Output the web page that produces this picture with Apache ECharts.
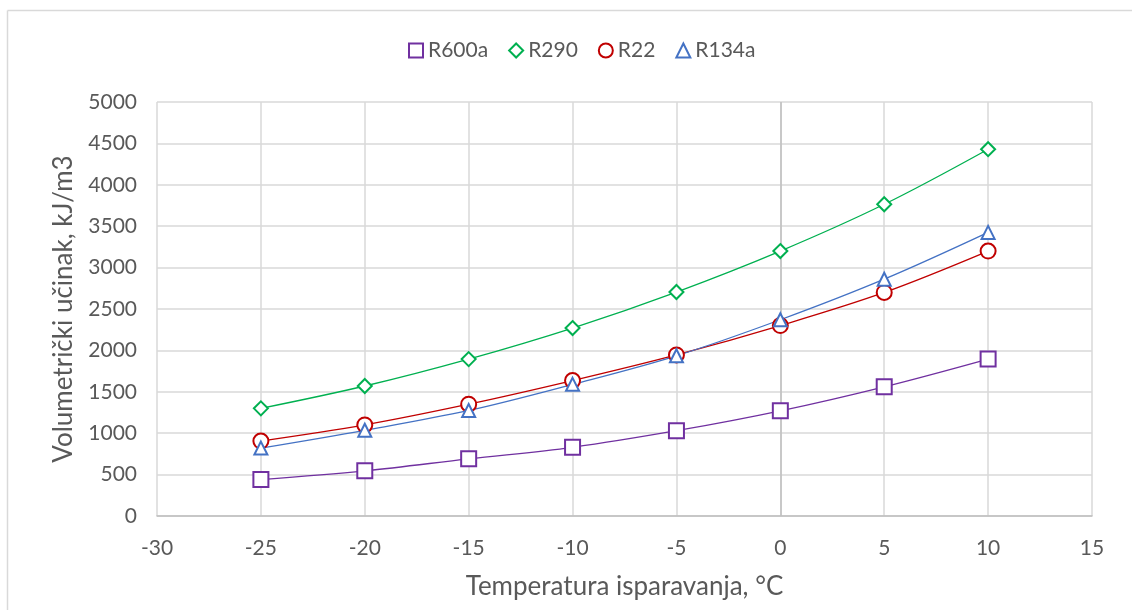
<!DOCTYPE html>
<html>
<head>
<meta charset="utf-8">
<script src="https://cdn.jsdelivr.net/npm/echarts@6/dist/echarts.min.js"></script>
<style>
html,body{margin:0;padding:0;background:#fff;}
#chart{width:1132px;height:610px;}
</style>
</head>
<body>
<div id="chart"></div>
<script>
const temps = [-25, -20, -15, -10, -5, 0, 5, 10];
const r600a = [440, 545, 690, 830, 1030, 1270, 1560, 1895];
const r290 = [1300, 1570, 1895, 2270, 2705, 3200, 3765, 4430];
const r22 = [905, 1100, 1350, 1635, 1945, 2300, 2700, 3200];
const r134a = [820, 1035, 1275, 1590, 1935, 2370, 2860, 3425];
const xTicks = [-30, 15, 5];
const yTicks = [0, 5000, 500];

const font = 'Lato, "Liberation Sans", sans-serif';
const txt = '#595959';

function pairs(vals){ return temps.map((t,i)=>[t, vals[i]]); }

function mk(name, vals, color, symbol){
  return {
    name, type:'line', smooth:0.35, data:pairs(vals),
    symbol, symbolSize: symbol==='diamond'?14:(symbol==='triangle'?13:15),
    showSymbol:true,
    lineStyle:{color, width:1.3},
    itemStyle:{color:'#fff', borderColor:color, borderWidth:2},
    z:3
  };
}

const chart = echarts.init(document.getElementById('chart'), null, {renderer:'canvas'});
const series = [
  mk('R600a', r600a, '#7030A0', 'rect'),
  mk('R290', r290, '#00B050', 'diamond'),
  mk('R22', r22, '#C00000', 'circle'),
  mk('R134a', r134a, '#4472C4', 'triangle')
];
series[0].markLine = {
  silent:true, symbol:['none','none'], label:{show:false},
  lineStyle:{color:'#bfbfbf', width:1.5, type:'solid'},
  data:[{xAxis:0}], z:1
};
chart.setOption({
  animation:false,
  backgroundColor:'#fff',
  textStyle:{fontFamily:font},
  graphic:[
    {type:'line', shape:{x1:7.5,y1:10.5,x2:1132,y2:10.5}, style:{stroke:'#d9d9d9', lineWidth:1.5}},
    {type:'line', shape:{x1:7.5,y1:10.5,x2:7.5,y2:610}, style:{stroke:'#d9d9d9', lineWidth:1.5}}
  ],
  legend:{
    top:35, left:403, itemGap:20, itemWidth:14, itemHeight:14,
    textStyle:{color:txt, fontSize:21, fontFamily:font},
    data:[
      {name:'R600a', icon:'rect'},
      {name:'R290', icon:'diamond'},
      {name:'R22', icon:'circle'},
      {name:'R134a', icon:'triangle'}
    ]
  },
  grid:{left:157, right:40, top:102, bottom:94},
  xAxis:{
    type:'value', min:xTicks[0], max:xTicks[1], interval:xTicks[2],
    name:'Temperatura isparavanja, °C', nameLocation:'middle', nameGap:58,
    nameTextStyle:{color:txt, fontSize:26, fontFamily:font},
    axisLine:{show:true, onZero:false, lineStyle:{color:'#bfbfbf', width:1.5}},
    axisTick:{show:false},
    axisLabel:{color:txt, fontSize:21, margin:22, fontFamily:font},
    splitLine:{show:true, lineStyle:{color:'#d9d9d9', width:1.5}}
  },
  yAxis:{
    type:'value', min:yTicks[0], max:yTicks[1], interval:yTicks[2],
    name:'Volumetrički učinak, kJ/m3', nameLocation:'middle', nameGap:80,
    nameTextStyle:{color:txt, fontSize:26, fontFamily:font},
    axisLine:{show:false},
    axisTick:{show:false},
    axisLabel:{color:txt, fontSize:21, margin:20, fontFamily:font, formatter: v => String(v)},
    splitLine:{show:true, lineStyle:{color:'#d9d9d9', width:1.5}}
  },
  series
});
</script>
</body>
</html>
